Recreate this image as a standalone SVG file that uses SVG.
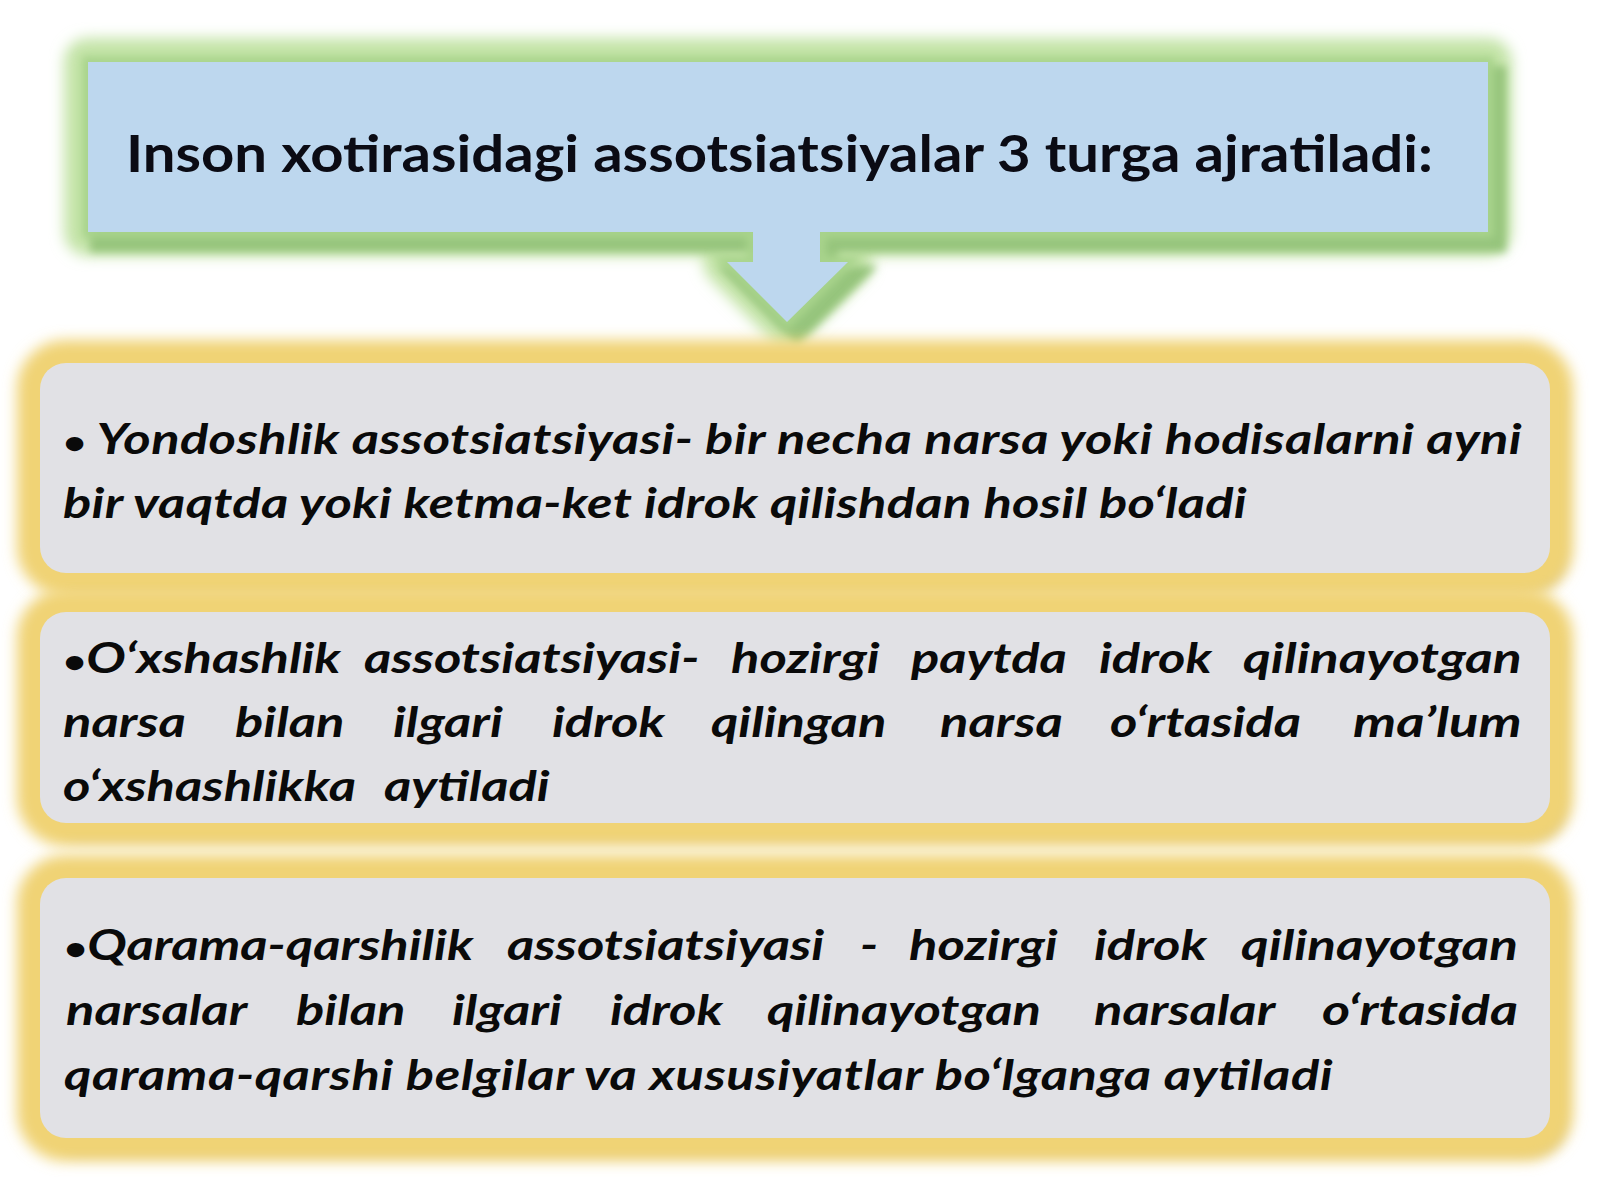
<svg xmlns="http://www.w3.org/2000/svg" width="1600" height="1200" viewBox="0 0 1600 1200">
<defs>
<style>
.title{font-family:Lato,"Liberation Sans",sans-serif;font-weight:700;font-size:52px;fill:#0b0b14;}
.body{font-family:Lato,"Liberation Sans",sans-serif;font-weight:700;font-style:italic;font-size:42px;fill:#0a0a0a;}
.bul{font-size:32px;font-style:normal;}
.card{fill:#e1e1e5;}
.glowY{fill:none;stroke:#f0d374;stroke-width:46;}
.shadowY{fill:#b9a980;opacity:0.75;}
</style>
<filter id="soft" x="-10%" y="-40%" width="120%" height="180%"><feGaussianBlur stdDeviation="7"/></filter>
<filter id="soft2" x="-10%" y="-40%" width="120%" height="180%"><feGaussianBlur stdDeviation="4"/></filter>
<path id="callout" d="M88,62 H1488 V232 H820 V262 H848 L787,322 L727,262 H753 V232 H88 Z"/>
<rect id="c1" x="40" y="363" width="1510" height="210" rx="26"/>
<rect id="c2" x="40" y="612" width="1510" height="211" rx="26"/>
<rect id="c3" x="40" y="878" width="1510" height="260" rx="26"/>
</defs>
<rect width="1600" height="1200" fill="#ffffff"/>

<g id="header">
<use href="#callout" fill="none" stroke="#c4e4a8" stroke-width="48" stroke-linejoin="round" filter="url(#soft)"/>
<use href="#callout" transform="translate(10,12)" fill="#95c47c" stroke="#95c47c" stroke-width="16" filter="url(#soft2)"/>
<use href="#callout" fill="none" stroke="#a9d48c" stroke-width="12" filter="url(#soft2)"/>
<use href="#callout" fill="#bdd7ee"/>
<text class="title" x="126" y="172" textLength="1307" lengthAdjust="spacingAndGlyphs">Inson xotirasidagi assotsiatsiyalar 3 turga ajratiladi:</text>
</g>

<g id="card1">
<use href="#c1" class="shadowY" transform="translate(12,14)" filter="url(#soft)"/>
<use href="#c1" class="glowY" filter="url(#soft)"/>
<use href="#c1" class="card"/>
<g transform="scale(1.25,1)">
<text class="body" x="50.4" y="454" textLength="1167" lengthAdjust="spacing"><tspan class="bul">•</tspan> Yondoshlik assotsiatsiyasi- bir necha narsa yoki hodisalarni ayni</text>
<text class="body" x="50.4" y="518" textLength="947" lengthAdjust="spacing">bir vaqtda yoki ketma-ket idrok qilishdan hosil bo‘ladi</text>
</g>
</g>

<g id="card2">
<use href="#c2" class="shadowY" transform="translate(12,14)" filter="url(#soft)"/>
<use href="#c2" class="glowY" filter="url(#soft)"/>
<use href="#c2" class="card"/>
<g transform="scale(1.25,1)">
<text class="body" y="673"><tspan x="50.4" class="bul">•</tspan><tspan>O‘xshashlik</tspan><tspan x="291.2">assotsiatsiyasi-</tspan><tspan x="584.8">hozirgi</tspan><tspan x="728.8">paytda</tspan><tspan x="879.2">idrok</tspan><tspan x="994.4" textLength="223" lengthAdjust="spacingAndGlyphs">qilinayotgan</tspan></text>
<text class="body" y="737"><tspan x="50.4">narsa</tspan><tspan x="188">bilan</tspan><tspan x="314.4">ilgari</tspan><tspan x="441.6">idrok</tspan><tspan x="568.8">qilingan</tspan><tspan x="752">narsa</tspan><tspan x="888">o‘rtasida</tspan><tspan x="1082.4" textLength="135" lengthAdjust="spacingAndGlyphs">ma’lum</tspan></text>
<text class="body" y="801"><tspan x="50.4">o‘xshashlikka</tspan><tspan x="307.2">aytiladi</tspan></text>
</g>
</g>

<g id="card3">
<use href="#c3" class="shadowY" transform="translate(12,14)" filter="url(#soft)"/>
<use href="#c3" class="glowY" filter="url(#soft)"/>
<use href="#c3" class="card"/>
<g transform="scale(1.25,1)">
<text class="body" y="960"><tspan x="51.2" class="bul">•</tspan><tspan>Qarama-qarshilik</tspan><tspan x="405.6">assotsiatsiyasi</tspan><tspan x="688">-</tspan><tspan x="727.2">hozirgi</tspan><tspan x="875.2">idrok</tspan><tspan x="992.8" textLength="221.6" lengthAdjust="spacingAndGlyphs">qilinayotgan</tspan></text>
<text class="body" y="1025"><tspan x="52.8">narsalar</tspan><tspan x="236.8">bilan</tspan><tspan x="361.6">ilgari</tspan><tspan x="488">idrok</tspan><tspan x="613.6">qilinayotgan</tspan><tspan x="875.2">narsalar</tspan><tspan x="1057.6" textLength="156.8" lengthAdjust="spacingAndGlyphs">o‘rtasida</tspan></text>
<text class="body" x="51.2" y="1090" textLength="1015" lengthAdjust="spacing">qarama-qarshi belgilar va xususiyatlar bo‘lganga aytiladi</text>
</g>
</g>

<g id="connectors"></g>
</svg>
